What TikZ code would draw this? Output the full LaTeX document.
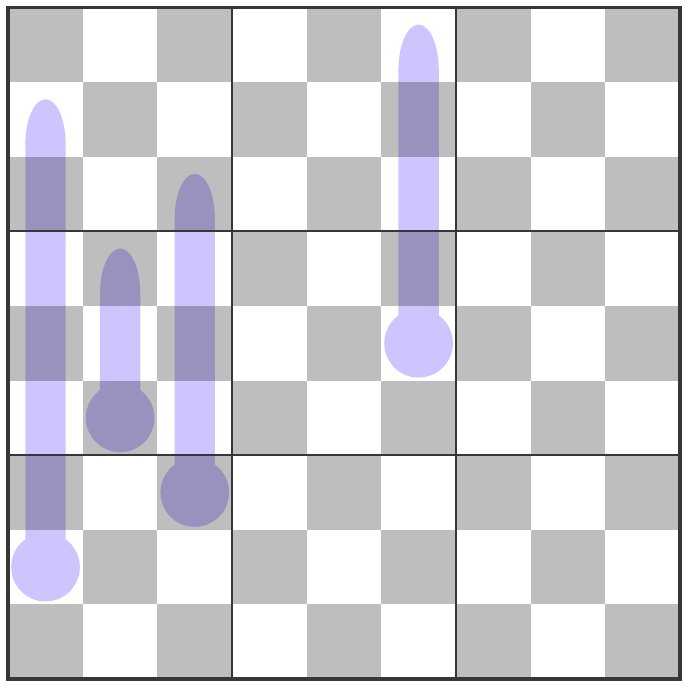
\documentclass[tikz,border=0pt]{standalone}
\usepackage{tikz}
\definecolor{thermocol}{RGB}{208,196,255}
\definecolor{gridcol}{RGB}{55,55,55}
\tikzset{
  thermo/.style={fill=thermocol},
  shade cell/.style={fill=black,opacity=0.255},
  box line/.style={draw=gridcol,line width=0.8pt},
  frame line/.style={draw=gridcol,line width=1.4pt}
}

\begin{document}
\begin{tikzpicture}
  \useasboundingbox (-0.11,-0.08) rectangle (9.06,9.1);
  % thermometers: column / bulb / top
  \foreach \x/\b/\t in {0.5/1.5/7.5, 1.5/3.5/5.5, 2.5/2.5/6.5, 5.5/4.5/8.5} {
    \fill[thermo] ({\x-0.27},\b) -- ({\x-0.27},{\t-0.33})
      arc[start angle=180,end angle=0,x radius=0.27,y radius=0.6]
      -- ({\x+0.27},\b) -- cycle;
    \fill[thermo] (\x,\b) circle[radius=0.46];
  }
  % checkerboard
  \foreach \i in {0,...,8}
    \foreach \j in {0,...,8} {
      \pgfmathparse{int(mod(\i+\j,2))}
      \ifnum\pgfmathresult=0
        \fill[shade cell] (\i,\j) rectangle ++(1,1);
      \fi
    }
  % boxes
  \foreach \k in {3,6} {
    \draw[box line] (\k,0) -- (\k,9);
    \draw[box line] (0,\k) -- (9,\k);
  }
  \draw[frame line] (0,0) rectangle (9,9);
\end{tikzpicture}
\end{document}
